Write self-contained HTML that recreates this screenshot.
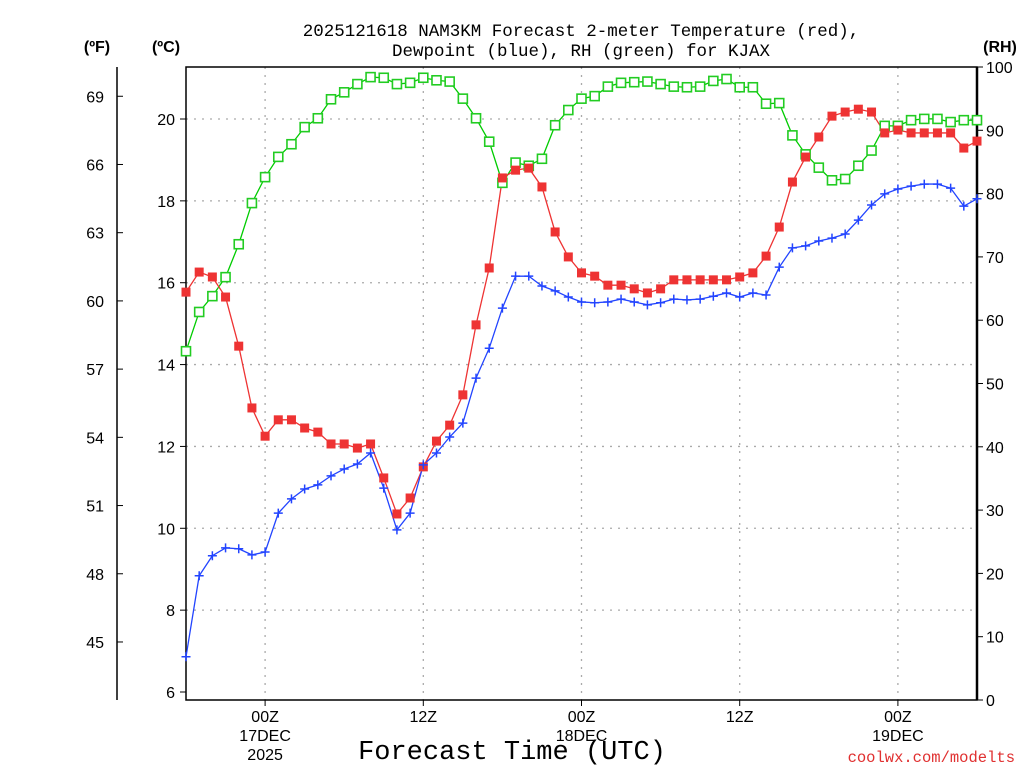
<!DOCTYPE html>
<html><head><meta charset="utf-8"><style>
body{margin:0;background:#fff;}
svg text{font-family:"Liberation Sans",sans-serif;}
svg text.mono{font-family:"Liberation Mono",monospace;}
</style></head><body>
<svg id="c" width="1024" height="768" xmlns="http://www.w3.org/2000/svg">
<text class="mono" x="581" y="36" font-size="17.5" text-anchor="middle">2025121618 NAM3KM Forecast 2-meter Temperature (red),</text>
<text class="mono" x="581" y="56" font-size="17.5" text-anchor="middle">Dewpoint (blue), RH (green) for KJAX</text>
<text x="97" y="52" font-size="16" font-weight="bold" text-anchor="middle">(ºF)</text>
<text x="166" y="52" font-size="16" font-weight="bold" text-anchor="middle">(ºC)</text>
<text x="1000" y="52" font-size="16" font-weight="bold" text-anchor="middle">(RH)</text>
<text class="mono" x="512" y="759" font-size="27" text-anchor="middle">Forecast Time (UTC)</text>
<text class="mono" x="1015" y="762" font-size="15.5" fill="#e03030" text-anchor="end">coolwx.com/modelts</text>
<g id="grid"></g><g id="axes"></g><g id="series"></g>
</svg>
<script>
const hours=[];for(let i=0;i<=60;i++)hours.push(i);
const tempC=[15.77,16.26,16.14,15.65,14.45,12.94,12.25,12.65,12.65,12.45,12.35,12.06,12.06,11.96,12.06,11.23,10.35,10.74,11.50,12.13,12.52,13.26,14.97,16.36,18.56,18.75,18.80,18.34,17.24,16.63,16.24,16.16,15.94,15.94,15.85,15.75,15.85,16.07,16.07,16.07,16.07,16.07,16.14,16.24,16.65,17.36,18.46,19.07,19.56,20.07,20.17,20.24,20.17,19.66,19.73,19.66,19.66,19.66,19.66,19.29,19.46];
const dewC=[6.86,8.84,9.33,9.52,9.50,9.35,9.42,10.37,10.72,10.96,11.06,11.28,11.45,11.57,11.84,10.98,9.96,10.37,11.55,11.84,12.23,12.57,13.67,14.40,15.38,16.16,16.16,15.92,15.80,15.65,15.53,15.51,15.53,15.60,15.53,15.46,15.51,15.60,15.58,15.60,15.67,15.75,15.65,15.75,15.70,16.38,16.85,16.90,17.02,17.09,17.19,17.53,17.90,18.17,18.29,18.36,18.41,18.41,18.31,17.87,18.05];
const rh=[55.1,61.3,63.8,66.8,72.0,78.5,82.6,85.8,87.8,90.5,91.9,94.9,96.0,97.3,98.4,98.3,97.3,97.5,98.3,97.9,97.7,95.0,91.9,88.2,81.7,84.9,84.4,85.5,90.8,93.2,95.0,95.4,96.9,97.5,97.6,97.7,97.3,96.9,96.8,96.9,97.8,98.1,96.8,96.8,94.2,94.3,89.2,86.2,84.1,82.1,82.3,84.4,86.8,90.7,90.7,91.6,91.8,91.8,91.3,91.6,91.6];
const cTicks=[6,8,10,12,14,16,18,20];
const fTicks=[45,48,51,54,57,60,63,66,69];
const rhTicks=[0,10,20,30,40,50,60,70,80,90,100];
const xTickHours=[6,18,30,42,54];
const xTickLabels=[["00Z","17DEC","2025"],["12Z"],["00Z","18DEC"],["12Z"],["00Z","19DEC"]];
const L=186,R=977,T=67,B=700;
const xs=h=>L+(R-L)*h/60;
const yc=c=>119+(20-c)*(692-119)/14;
const yf=f=>yc((f-32)*5/9);
const yr=v=>B-(B-T)*v/100;
const NS="http://www.w3.org/2000/svg";
function mk(tag,attrs,parent){const e=document.createElementNS(NS,tag);for(const k in attrs)e.setAttribute(k,attrs[k]);parent.appendChild(e);return e;}
const grid=document.getElementById('grid'),axes=document.getElementById('axes'),ser=document.getElementById('series');
cTicks.forEach(c=>{if(c>6){const g=mk('line',{x1:L,x2:R,y1:yc(c),y2:yc(c),stroke:'#aaa','stroke-dasharray':'2,6','stroke-width':1.3},grid);

}
mk('line',{x1:L-6,x2:L,y1:yc(c),y2:yc(c),stroke:'#000'},axes);
const t=mk('text',{x:L-11,y:yc(c)+6,'font-size':16,'text-anchor':'end'},axes);t.textContent=c;

});
xTickHours.forEach((h,i)=>{const g=mk('line',{x1:xs(h),x2:xs(h),y1:T,y2:B,stroke:'#aaa','stroke-dasharray':'2,6','stroke-width':1.3},grid);


mk('line',{x1:xs(h),x2:xs(h),y1:B,y2:B+6,stroke:'#000'},axes);
xTickLabels[i].forEach((s,j)=>{const t=mk('text',{x:xs(h),y:722+j*19,'font-size':16,'text-anchor':'middle'},axes);t.textContent=s;

});});
mk('line',{x1:117,x2:117,y1:T,y2:B,stroke:'#000','stroke-width':1.5},axes);
fTicks.forEach(f=>{mk('line',{x1:117,x2:123,y1:yf(f),y2:yf(f),stroke:'#000'},axes);
const t=mk('text',{x:104,y:yf(f)+6,'font-size':16,'text-anchor':'end'},axes);t.textContent=f;

});
rhTicks.forEach(v=>{mk('line',{x1:R,x2:R+6,y1:yr(v),y2:yr(v),stroke:'#000'},axes);
const t=mk('text',{x:986,y:yr(v)+6,'font-size':16},axes);t.textContent=v;

});
mk('rect',{x:L,y:T,width:R-L,height:B-T,fill:'none',stroke:'#000','stroke-width':1.5},axes);
mk('line',{x1:R,x2:R,y1:T,y2:B,stroke:'#000','stroke-width':2.5},axes);
function line(vals,yfn,col,name){const p=mk('polyline',{points:vals.map((v,i)=>xs(hours[i])+','+yfn(v)).join(' '),fill:'none',stroke:col,'stroke-width':1.3},ser);

}
line(rh,yr,'#00cc00','rh-line');
line(tempC,yc,'#ee3333','temperature-line');
line(dewC,yc,'#2244ff','dewpoint-line');
rh.forEach((v,i)=>{const m=mk('rect',{x:xs(hours[i])-4.5,y:yr(v)-4.5,width:9,height:9,fill:'#fff',stroke:'#22cc22','stroke-width':1.6},ser);

});
tempC.forEach((v,i)=>{const m=mk('rect',{x:xs(hours[i])-4.5,y:yc(v)-4.5,width:9,height:9,fill:'#ee3333'},ser);

});
dewC.forEach((v,i)=>{const x=xs(hours[i]),y=yc(v);const m=mk('path',{d:`M${x-4.5},${y}H${x+4.5}M${x},${y-4.5}V${y+4.5}`,stroke:'#2244ff','stroke-width':1.5},ser);

});
</script>
</body></html>
